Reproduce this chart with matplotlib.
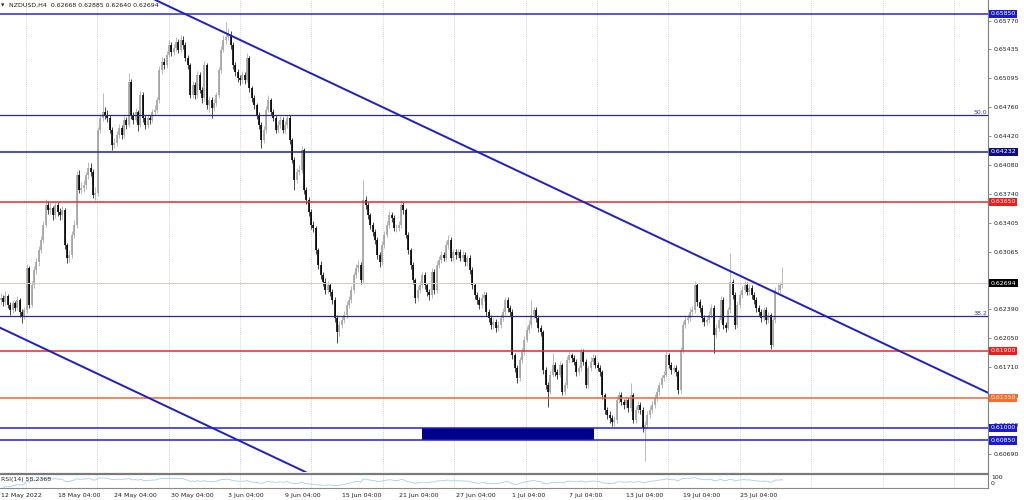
import numpy as np
import pandas as pd
import matplotlib
matplotlib.use("Agg")
import matplotlib.pyplot as plt
from matplotlib.transforms import blended_transform_factory as blend

# ---------------- data ----------------
symbol_title = "NZDUSD,H4  0.62668 0.62885 0.62640 0.62694"

# H4 candles, prices in points (1 point = 0.00001)
first_open_pts = 62500
close_pts = [
    62520, 62473, 62543, 62438, 62379, 62461, 62403, 62496, 62356, 62309,
    62379, 62872, 62438, 62672, 62848, 62942, 63083, 63200, 63376, 63610,
    63552, 63575, 63493, 63610, 63528, 63493, 63552, 63141, 62989, 63024,
    63259, 63376, 63962, 63786, 63810, 63845, 63962, 64044, 63997, 63728,
    63751, 64490, 64630, 64701, 64666, 64630, 64490, 64314, 64337, 64431,
    64513, 64431, 64607, 64548, 65053, 64666, 64607, 64701, 64548, 64900,
    64630, 64548, 64630, 64607, 64701, 64724, 64842, 65193, 65287, 65252,
    65369, 65486, 65404, 65451, 65522, 65428, 65545, 65486, 65334, 65252,
    64900, 65017, 64900, 65135, 64959, 64865, 65252, 64783, 64842, 64748,
    64806, 64900, 65193, 65428, 65545, 65580, 65604, 65486, 65252, 65170,
    65099, 65076, 65135, 65076, 65334, 64982, 64865, 64783, 64666, 64548,
    64372, 64490, 64724, 64842, 64701, 64630, 64490, 64548, 64607, 64490,
    64548, 64630, 64372, 64138, 63903, 63997, 64021, 64255, 63786, 63669,
    63528, 63376, 63341, 63083, 62907, 62790, 62708, 62614, 62672, 62590,
    62496, 62285, 62121, 62203, 62262, 62321, 62438, 62496, 62614, 62790,
    62872, 62907, 62731, 63669, 63610, 63493, 63376, 63294, 63200, 63024,
    62942, 63141, 63259, 63376, 63493, 63458, 63341, 63341, 63376, 63610,
    63552, 63259, 63083, 62907, 62731, 62520, 62614, 62672, 62790, 62672,
    62590, 62555, 62825, 62614, 62907, 62966, 63024, 62989, 63141, 63200,
    62989, 63059, 63024, 63059, 62989, 63024, 62942, 62989, 62848, 62672,
    62555, 62496, 62438, 62520, 62555, 62356, 62285, 62203, 62239, 62168,
    62203, 62285, 62356, 62496, 62403, 62356, 61852, 61699, 61582, 61793,
    61887, 62028, 62145, 62203, 62321, 62379, 62285, 62168, 62121, 61676,
    61500, 61418, 61617, 61734, 61652, 61617, 61734, 61418, 61500, 61793,
    61852, 61816, 61770, 61652, 61699, 61887, 61770, 61500, 61699, 61770,
    61816, 61734, 61699, 61652, 61383, 61207, 61148, 61113, 61066, 61090,
    61324, 61383, 61301, 61265, 61324, 61230, 61383, 61090, 61207, 61265,
    61207, 60996, 61031, 61148, 61207, 61265, 61347, 61418, 61500, 61582,
    61617, 61852, 61734, 61676, 61699, 61652, 61441, 61910, 62203, 62262,
    62285, 62356, 62379, 62672, 62473, 62403, 62285, 62239, 62262, 62321,
    62403, 62086, 62168, 62262, 62496, 62203, 62168, 62379, 62708, 62555,
    62203, 62438, 62555, 62614, 62672, 62590, 62637, 62555, 62496, 62403,
    62356, 62285, 62379, 62262, 62321, 61969, 62262, 62614, 62614, 62668,
    62694]
high_pts = [
    62580, 62560, 62600, 62570, 62470, 62500, 62490, 62540, 62520, 62390,
    62420, 62920, 62900, 62720, 62890, 62990, 63130, 63250, 63420, 63680,
    63660, 63640, 63600, 63650, 63640, 63570, 63600, 63580, 63170, 63080,
    63300, 63430, 64010, 64020, 63880, 63900, 64000, 64110, 64100, 64030,
    63820, 64530, 64680, 64924, 64760, 64720, 64670, 64520, 64400, 64480,
    64560, 64550, 64650, 64640, 65158, 65090, 64700, 64750, 64730, 64950,
    64940, 64660, 64680, 64670, 64740, 64780, 64880, 65240, 65340, 65330,
    65420, 65550, 65520, 65500, 65580, 65560, 65600, 65590, 65520, 65370,
    65280, 65070, 65050, 65180, 65170, 64990, 65300, 65280, 64890, 64880,
    64850, 64940, 65230, 65480, 65600, 65756, 65680, 65650, 65520, 65290,
    65200, 65140, 65180, 65170, 65390, 65360, 65010, 64900, 64810, 64700,
    64580, 64540, 64770, 64900, 64870, 64740, 64660, 64590, 64650, 64640,
    64600, 64670, 64660, 64400, 64170, 64040, 64080, 64300, 64280, 63820,
    63700, 63560, 63420, 63370, 63110, 62950, 62830, 62750, 62720, 62700,
    62630, 62530, 62320, 62250, 62310, 62370, 62480, 62540, 62660, 62830,
    62920, 62960, 62940, 63903, 63720, 63640, 63520, 63410, 63330, 63230,
    63060, 63190, 63300, 63420, 63540, 63530, 63490, 63390, 63420, 63669,
    63650, 63580, 63290, 63110, 62940, 62760, 62660, 62720, 62830, 62820,
    62700, 62630, 62870, 62860, 62950, 63010, 63070, 63060, 63190, 63260,
    63230, 63100, 63090, 63100, 63090, 63070, 63060, 63030, 63020, 62880,
    62700, 62590, 62530, 62570, 62600, 62590, 62390, 62320, 62290, 62270,
    62250, 62330, 62400, 62531, 62530, 62440, 62390, 61880, 61730, 61830,
    61930, 62070, 62190, 62260, 62496, 62420, 62410, 62320, 62200, 62150,
    61710, 61540, 61660, 61870, 61770, 61690, 61780, 61760, 61540, 61840,
    61900, 61880, 61850, 61800, 61740, 61930, 61920, 61800, 61740, 61830,
    61860, 61850, 61770, 61730, 61680, 61410, 61240, 61190, 61150, 61140,
    61370, 61430, 61420, 61340, 61370, 61360, 61523, 61410, 61250, 61310,
    61300, 61240, 61080, 61190, 61250, 61310, 61390, 61460, 61540, 61620,
    61660, 61900, 61880, 61770, 61740, 61740, 61680, 61950, 62250, 62310,
    62330, 62400, 62430, 62720, 62700, 62510, 62440, 62320, 62300, 62370,
    62450, 62440, 62210, 62300, 62540, 62530, 62240, 62420, 63048, 62740,
    62590, 62480, 62600, 62660, 62720, 62710, 62680, 62670, 62590, 62530,
    62440, 62390, 62420, 62410, 62360, 62350, 62300, 62650, 62680, 62710,
    62885]
low_pts = [
    62450, 62430, 62440, 62400, 62320, 62340, 62370, 62380, 62300, 62227,
    62270, 62350, 62400, 62410, 62640, 62800, 62900, 63050, 63170, 63350,
    63500, 63510, 63440, 63460, 63480, 63430, 63450, 63100, 62930, 62940,
    62990, 63220, 63340, 63750, 63740, 63760, 63800, 63920, 63950, 63690,
    63669, 63720, 64450, 64600, 64620, 64580, 64450, 64255, 64280, 64300,
    64400, 64390, 64400, 64500, 64520, 64620, 64560, 64580, 64480, 64520,
    64580, 64500, 64510, 64560, 64580, 64670, 64690, 64810, 65150, 65200,
    65220, 65340, 65360, 65370, 65420, 65390, 65400, 65440, 65300, 65200,
    64860, 64870, 64850, 64870, 64920, 64810, 64830, 64740, 64700, 64630,
    64710, 64770, 64870, 65160, 65400, 65500, 65540, 65440, 65210, 65120,
    65050, 65020, 65040, 65030, 65050, 64940, 64820, 64740, 64620, 64500,
    64279, 64340, 64460, 64700, 64660, 64590, 64450, 64460, 64510, 64450,
    64460, 64510, 64330, 64100, 63786, 63870, 63960, 63990, 63740, 63620,
    63480, 63330, 63290, 63040, 62860, 62740, 62660, 62570, 62580, 62540,
    62450, 62240, 61992, 62080, 62170, 62230, 62290, 62400, 62460, 62580,
    62750, 62830, 62690, 62700, 63560, 63450, 63330, 63250, 63150, 62980,
    62880, 62910, 63110, 63230, 63340, 63410, 63300, 63290, 63300, 63340,
    63510, 63220, 63040, 62860, 62690, 62461, 62490, 62580, 62640, 62630,
    62540, 62500, 62520, 62570, 62580, 62870, 62930, 62950, 62950, 63100,
    62950, 62950, 62980, 62990, 62950, 62950, 62900, 62900, 62800, 62630,
    62510, 62450, 62390, 62400, 62480, 62310, 62240, 62160, 62160, 62120,
    62130, 62170, 62250, 62320, 62360, 62310, 61800, 61650, 61523, 61550,
    61760, 61850, 62000, 62110, 62170, 62290, 62240, 62120, 62080, 61630,
    61450, 61242, 61390, 61590, 61610, 61570, 61590, 61380, 61380, 61470,
    61760, 61770, 61730, 61610, 61620, 61670, 61730, 61460, 61470, 61670,
    61740, 61700, 61660, 61610, 61340, 61160, 61100, 61060, 61020, 61020,
    61060, 61290, 61260, 61220, 61230, 61180, 61200, 61050, 61060, 61170,
    61160, 60950, 60609, 61000, 61110, 61170, 61230, 61310, 61380, 61470,
    61550, 61590, 61700, 61630, 61640, 61610, 61400, 61410, 61880, 62170,
    62230, 62250, 62320, 62350, 62430, 62360, 62240, 62190, 62200, 62230,
    62290, 61875, 62050, 62130, 62230, 62160, 62120, 62140, 62350, 62510,
    62160, 62170, 62400, 62520, 62580, 62550, 62550, 62510, 62450, 62360,
    62310, 62240, 62250, 62220, 62230, 61920, 61940, 62230, 62570, 62580,
    62640]

time_labels = ["12 May 2022", "18 May 04:00", "24 May 04:00", "30 May 04:00",
               "3 Jun 04:00", "9 Jun 04:00", "15 Jun 04:00", "21 Jun 04:00",
               "27 Jun 04:00", "1 Jul 04:00", "7 Jul 04:00", "13 Jul 04:00",
               "19 Jul 04:00", "25 Jul 04:00"]
time_label_bars = [0, 24, 48, 72, 96, 120, 144, 168, 192, 216, 240, 264, 288, 312]

price_ticks = [0.65770, 0.65435, 0.65095, 0.64760, 0.64420, 0.64080, 0.63740,
               0.63405, 0.63065, 0.62725, 0.62390, 0.62050, 0.61710, 0.61370,
               0.61030, 0.60690]
# tick labels fully covered by the current-price box are not printed
hidden_tick_labels = [0.62725]

levels = [0.65850, 0.64232, 0.63650, 0.61900, 0.61350, 0.61000, 0.60850]
fib_levels = [0.64666, 0.62309]
fib_names = ["50.0", "38.2"]
current_price = 0.62694
upper_trend = [(95, 0.65625), (330, 0.62546)]
lower_trend = [(0, 0.62168), (100, 0.60856)]
zone_bars = [178, 250.3]
zone_prices = [0.60850, 0.61000]
rsi_period = 14
rsi_text = "RSI(14) 58.2368"

# ---------------- styles ----------------
level_colors = ['#2a2ac8', '#20208c', '#e42a2a', '#e42a2a', '#f0682e', '#2020d0', '#2020d0']
label_bg = ['#1a1ad2', '#0e0e82', '#f01c1c', '#f01c1c', '#ff6b2a', '#1a1ad2', '#1a1ad2']
FS = 4.5
W, H = 1024, 500
px_per_bar = 2.369

closes = np.array(close_pts) / 1e5
highs = np.array(high_pts) / 1e5
lows = np.array(low_pts) / 1e5
opens = np.r_[first_open_pts / 1e5, closes[:-1]]
idx = np.arange(len(closes))

fig = plt.figure(figsize=(W / 100, H / 100), dpi=100)
fig.patch.set_facecolor('white')
ax = fig.add_axes([0, 28 / H, 988 / W, 472 / H])
rax = fig.add_axes([0, 12 / H, 988 / W, 14 / H])

x0 = -0.3
xlim = (x0, x0 + 988 / px_per_bar)
ax.set_xlim(*xlim)
ax.set_ylim(0.60480, 0.66014)

# grid
grid_bars = np.arange(10.55, xlim[1], 30.14)
for g in grid_bars:
    ax.axvline(g, color='#c4c4c4', lw=0.6, ls=(0, (1, 1.5)), zorder=0)
    rax.axvline(g, color='#c4c4c4', lw=0.6, ls=(0, (1, 1.5)), zorder=0)

# zone
ax.fill_between(zone_bars, zone_prices[0], zone_prices[1], color='#00008b', lw=0, zorder=2)

# candles
bull = closes >= opens
top = np.maximum(opens, closes)
bot = np.minimum(opens, closes)
top = np.maximum(top, bot + 0.00005)
ax.vlines(idx[bull], lows[bull], highs[bull], color='#b0b0b0', lw=0.6, zorder=3)
ax.vlines(idx[~bull], lows[~bull], highs[~bull], color='#2a2a2a', lw=0.6, zorder=3)
ax.vlines(idx[bull], bot[bull], top[bull], color='#a2a2a2', lw=1.2, zorder=4)
ax.vlines(idx[~bull], bot[~bull], top[~bull], color='#000000', lw=1.2, zorder=4)

# levels
ax.axhline(current_price, color='#dcc6bd', lw=0.7, zorder=4.5)
for lv, col in zip(levels, level_colors):
    ax.axhline(lv, color=col, lw=1.1, zorder=5)
for lv in fib_levels:
    ax.axhline(lv, color='#28288c', lw=0.9, zorder=5)

# trend lines
ax.axline(upper_trend[0], upper_trend[1], color='#1e1ec8', lw=1.4, zorder=6)
ax.axline(lower_trend[0], lower_trend[1], color='#1e1ec8', lw=1.4, zorder=6)

# axis styling
ax.yaxis.tick_right()
ax.set_yticks(price_ticks)
ax.set_yticklabels(['' if p in hidden_tick_labels else f'{p:.5f}' for p in price_ticks])
ax.tick_params(axis='y', length=2, width=0.6, color='#808080', labelsize=FS,
               labelcolor='#202020', pad=2)
ax.set_xticks([])
for s in ['left', 'top', 'bottom']:
    ax.spines[s].set_visible(False)
ax.spines['right'].set_color('#808080')
ax.spines['right'].set_linewidth(0.8)

tr = blend(ax.transAxes, ax.transData)
for lv, bg in zip(levels, label_bg):
    ax.text(1.0025, lv, f'{lv:.5f}', transform=tr, color='white', fontsize=FS,
            va='center', ha='left', clip_on=False, zorder=20,
            bbox=dict(boxstyle='square,pad=0.25', fc=bg, ec='none'))
ax.text(1.0025, current_price, f'{current_price:.5f}', transform=tr, color='white',
        fontsize=FS, va='center', ha='left', clip_on=False, zorder=20,
        bbox=dict(boxstyle='square,pad=0.25', fc='#000000', ec='none'))
for lv, name in zip(fib_levels, fib_names):
    ax.text(0.999, lv, name, transform=tr, ha='right', va='bottom', fontsize=FS,
            color='#3a3aa8', zorder=7)

ax.text(0.0015, 0.992, '\u25bc', transform=ax.transAxes, fontsize=3.2, va='top',
        ha='left', color='#202020')
ax.text(0.009, 0.994, symbol_title, transform=ax.transAxes, fontsize=FS, va='top',
        ha='left', color='#202020')

# RSI sub-window
s = pd.Series(closes)
d = s.diff()
gain = d.clip(lower=0).ewm(alpha=1 / rsi_period, adjust=False).mean()
loss = (-d.clip(upper=0)).ewm(alpha=1 / rsi_period, adjust=False).mean()
rsi = 100 - 100 / (1 + gain / loss)
rax.plot(idx[1:], rsi.values[1:], color='#a6d0e4', lw=0.6)
rax.set_xlim(*xlim)
rax.set_ylim(0, 100)
rax.set_xticks([])
rax.set_yticks([])
rax.spines['left'].set_visible(False)
rax.spines['top'].set_color('#7a7a7a')
rax.spines['top'].set_linewidth(1.6)
rax.spines['bottom'].set_color('#8a8a8a')
rax.spines['bottom'].set_linewidth(0.8)
rax.spines['right'].set_color('#808080')
rax.spines['right'].set_linewidth(0.8)
rax.text(0.001, 0.62, rsi_text, transform=rax.transAxes, fontsize=FS, va='center',
         ha='left', color='#303030')
rax.text(1.003, 0.72, '100', transform=rax.transAxes, fontsize=FS, va='center',
         ha='left', color='#202020', clip_on=False)
rax.text(1.003, 0.30, '0', transform=rax.transAxes, fontsize=FS, va='center',
         ha='left', color='#202020', clip_on=False)

trr = blend(rax.transData, rax.transAxes)
for b, t in zip(time_label_bars, time_labels):
    rax.text(b, -0.55, t, transform=trr, fontsize=FS, ha='left', va='center',
             color='#202020', clip_on=False)

fig.savefig('out.png', dpi=100, facecolor='white')
